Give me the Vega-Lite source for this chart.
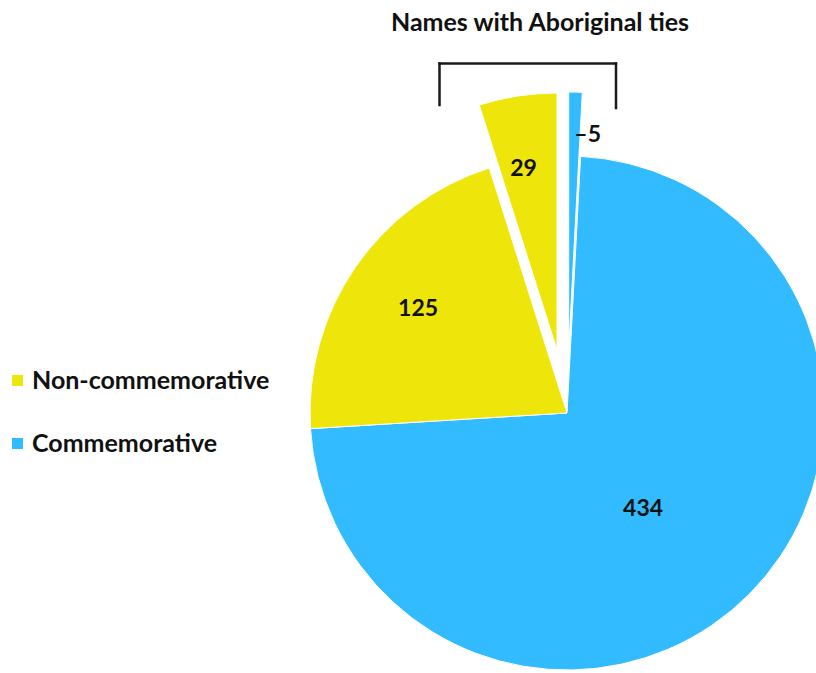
{
  "$schema": "https://vega.github.io/schema/vega-lite/v6.json",
  "width": 816,
  "height": 673,
  "padding": 0,
  "autosize": {"type": "none"},
  "background": "white",
  "config": {"view": {"stroke": null}, "font": "Lato"},
  "datasets": {
    "slices": [
      {"type": "Commemorative", "group": "Aboriginal ties", "value": 5, "order": 1, "label": "–5"},
      {"type": "Commemorative", "group": "Other", "value": 434, "order": 2, "label": "434"},
      {"type": "Non-commemorative", "group": "Other", "value": 125, "order": 3, "label": "125"},
      {"type": "Non-commemorative", "group": "Aboriginal ties", "value": 29, "order": 4, "label": "29"}
    ],
    "bracket": [
      {"x": -127.5, "y": 349.5, "x2": 49, "y2": 349.5},
      {"x": -127.5, "y": 349.5, "x2": -127.5, "y2": 308},
      {"x": 49, "y": 349.5, "x2": 49, "y2": 305}
    ],
    "heading": [{"x": -27, "y": 390, "text": "Names with Aboriginal ties"}]
  },
  "layer": [
    {
      "data": {"name": "slices"},
      "transform": [
        {"stack": "value", "groupby": [], "sort": [{"field": "order"}], "as": ["start", "end"]},
        {"calculate": "(datum.start + datum.end) / 2", "as": "mid"}
      ],
      "encoding": {
        "x": {"datum": 0, "type": "quantitative", "scale": {"domain": [-567, 249], "nice": false, "zero": false}, "axis": null},
        "y": {"datum": 0, "type": "quantitative", "scale": {"domain": [-260, 413], "nice": false, "zero": false}, "axis": null}
      },
      "layer": [
        {
          "transform": [{"filter": "datum.group == 'Other'"}],
          "mark": {"type": "arc", "outerRadius": 257, "stroke": "white", "strokeWidth": 1},
          "encoding": {
            "theta": {"field": "start", "type": "quantitative", "scale": {"domain": [0, 593], "range": [0, 6.283185307]}},
            "theta2": {"field": "end"},
            "color": {
              "field": "type", "type": "nominal",
              "scale": {"domain": ["Non-commemorative", "Commemorative"], "range": ["#EEE60A", "#33BBFF"]},
              "legend": {
                "title": null, "orient": "none", "legendX": 5, "legendY": 368,
                "symbolType": "square", "symbolSize": 121, "symbolStrokeWidth": 0,
                "labelFont": "Lato", "labelFontSize": 25, "labelFontWeight": "bold", "labelColor": "#111",
                "labelLimit": 0, "rowPadding": 37, "labelOffset": 2
              }
            }
          }
        },
        {
          "transform": [{"filter": "datum.group == 'Aboriginal ties' && datum.type == 'Non-commemorative'"}],
          "mark": {"type": "arc", "outerRadius": 257, "stroke": "white", "strokeWidth": 1, "xOffset": -10, "yOffset": -63},
          "encoding": {
            "theta": {"field": "start", "type": "quantitative"},
            "theta2": {"field": "end"},
            "color": {"field": "type", "type": "nominal"}
          }
        },
        {
          "transform": [{"filter": "datum.group == 'Aboriginal ties' && datum.type == 'Commemorative'"}],
          "mark": {"type": "arc", "outerRadius": 257, "stroke": "white", "strokeWidth": 1, "xOffset": 1.7, "yOffset": -64},
          "encoding": {
            "theta": {"field": "start", "type": "quantitative"},
            "theta2": {"field": "end"},
            "color": {"field": "type", "type": "nominal"}
          }
        },
        {
          "transform": [{"filter": "datum.value == 434"}],
          "mark": {"type": "text", "radius": 121, "font": "Lato", "fontSize": 23, "fontWeight": "bold", "color": "#111", "baseline": "middle", "thetaOffset": 0.13, "xOffset": 2},
          "encoding": {"theta": {"field": "mid", "type": "quantitative"}, "text": {"field": "label"}}
        },
        {
          "transform": [{"filter": "datum.value == 125"}],
          "mark": {"type": "text", "radius": 183, "font": "Lato", "fontSize": 23, "fontWeight": "bold", "color": "#111", "baseline": "middle", "xOffset": 2},
          "encoding": {"theta": {"field": "mid", "type": "quantitative"}, "text": {"field": "label"}}
        },
        {
          "transform": [{"filter": "datum.value == 29"}],
          "mark": {"type": "text", "radius": 186, "font": "Lato", "fontSize": 23, "fontWeight": "bold", "color": "#111", "baseline": "middle", "xOffset": -15, "yOffset": -60},
          "encoding": {"theta": {"field": "mid", "type": "quantitative"}, "text": {"field": "label"}}
        },
        {
          "transform": [{"filter": "datum.value == 5"}],
          "mark": {"type": "text", "radius": 214, "font": "Lato", "fontSize": 23, "fontWeight": "bold", "color": "#111", "baseline": "middle", "align": "left", "xOffset": 1.7, "yOffset": -64},
          "encoding": {"theta": {"field": "mid", "type": "quantitative"}, "text": {"field": "label"}}
        }
      ]
    },
    {
      "data": {"name": "bracket"},
      "mark": {"type": "rule", "color": "#1a1a1a", "strokeWidth": 2.5, "strokeCap": "square"},
      "encoding": {
        "x": {"field": "x", "type": "quantitative"},
        "y": {"field": "y", "type": "quantitative"},
        "x2": {"field": "x2"},
        "y2": {"field": "y2"}
      }
    },
    {
      "data": {"name": "heading"},
      "mark": {"type": "text", "font": "Lato", "fontSize": 25, "fontWeight": "bold", "color": "#111", "align": "center", "baseline": "middle"},
      "encoding": {
        "x": {"field": "x", "type": "quantitative"},
        "y": {"field": "y", "type": "quantitative"},
        "text": {"field": "text"}
      }
    }
  ]
}
